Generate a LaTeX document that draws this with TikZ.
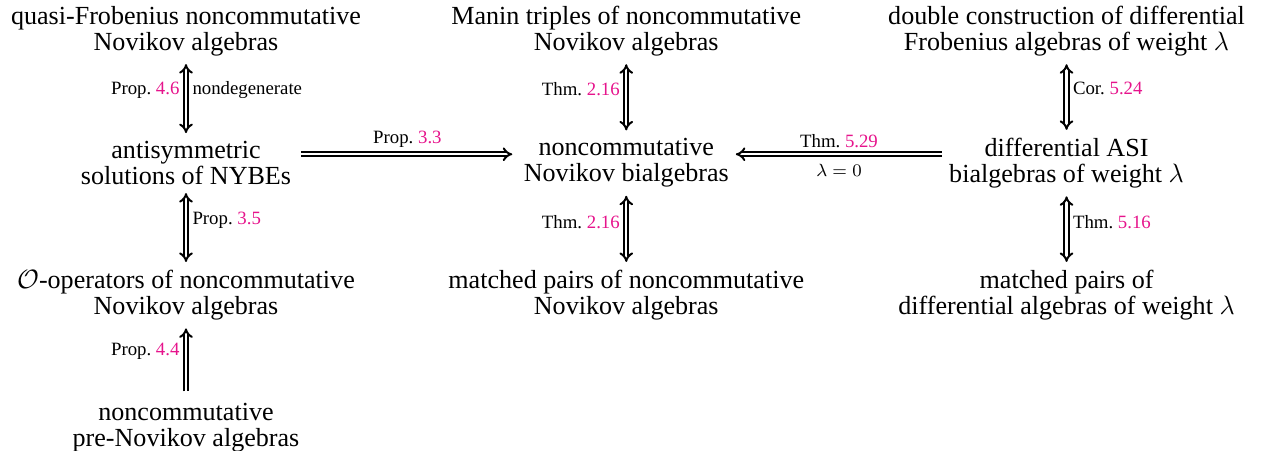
\documentclass[tikz,border=0pt]{standalone}
\usepackage{amsmath}
\usepackage{amssymb}
\usepackage{xcolor}
\usepackage{fontspec}
\setmainfont{Liberation Serif}
\usetikzlibrary{arrows.meta, positioning}

\definecolor{linkpink}{RGB}{230,20,140}
\newcommand{\refno}[1]{\textcolor{linkpink}{#1}}

\begin{document}
\begin{tikzpicture}[
        x=0.0159cm, y=-0.0159cm,
        node distance=2.1cm and 7cm, on grid,
        obj/.style={align=center, inner sep=3pt, font=\fontsize{11.8}{11.8}\selectfont},
        lab/.style={inner sep=2.5pt, font=\fontsize{8.5}{10}\selectfont},
        imp/.style={double, line width=0.9pt, double distance=1.1pt, -{Implies}, shorten <=0.5pt, shorten >=0.5pt},
        eqv/.style={imp, {Implies}-{Implies}}
    ]
        \useasboundingbox (0,0) rectangle (1261,451);

        % Nodes
        \node[obj] (qfrob) at (186,31) {quasi-Frobenius noncommutative\\Novikov algebras};
        \node[obj, below=of qfrob] (antisym) {antisymmetric\\solutions of NYBEs};
        \node[obj, below=of antisym] (oop) {$\mathcal{O}$-operators of noncommutative\\Novikov algebras};
        \node[obj, below=of oop] (prenov) {noncommutative\\pre-Novikov algebras};
        \node[obj, right=of qfrob] (manin) {Manin triples of noncommutative\\Novikov algebras};
        \node[obj, below=of manin] (novbi) {noncommutative\\Novikov bialgebras};
        \node[obj, below=of novbi] (mpnov) {matched pairs of noncommutative\\Novikov algebras};
        \node[obj, right=of manin] (double) {double construction of differential\\Frobenius algebras of weight $\lambda$};
        \node[obj, below=of double] (diffasi) {differential ASI\\bialgebras of weight $\lambda$};
        \node[obj, below=of diffasi] (mpdiff) {matched pairs of\\differential algebras of weight $\lambda$};

        % Arrows
        \draw[eqv] (qfrob) -- node[lab, left, pos=0.38] {Prop.~\refno{4.6}} node[lab, right, pos=0.38] {nondegenerate} (antisym);
        \draw[eqv] (antisym) -- node[lab, right, pos=0.4] {Prop.~\refno{3.5}} (oop);
        \draw[imp, shorten <=2pt] (prenov) -- node[lab, left, pos=0.65] {Prop.~\refno{4.4}} (oop);
        \draw[eqv] (manin) -- node[lab, left, pos=0.38] {Thm.~\refno{2.16}} (novbi);
        \draw[eqv] (novbi) -- node[lab, left, pos=0.4] {Thm.~\refno{2.16}} (mpnov);
        \draw[eqv] (double) -- node[lab, right, pos=0.38] {Cor.~\refno{5.24}} (diffasi);
        \draw[eqv] (diffasi) -- node[lab, right, pos=0.4] {Thm.~\refno{5.16}} (mpdiff);
        \draw[imp, shorten <=1.5pt, shorten >=2pt] ([yshift=4pt]antisym.east) -- node[lab, above] {Prop.~\refno{3.3}} ([yshift=4pt]novbi.west);
        \draw[imp, shorten <=0pt, shorten >=0pt] ([yshift=4pt]diffasi.west) -- node[lab, above] {Thm.~\refno{5.29}} node[lab, below, inner sep=4pt] {$\lambda = 0$} ([yshift=4pt]novbi.east);
    \end{tikzpicture}
\end{document}
